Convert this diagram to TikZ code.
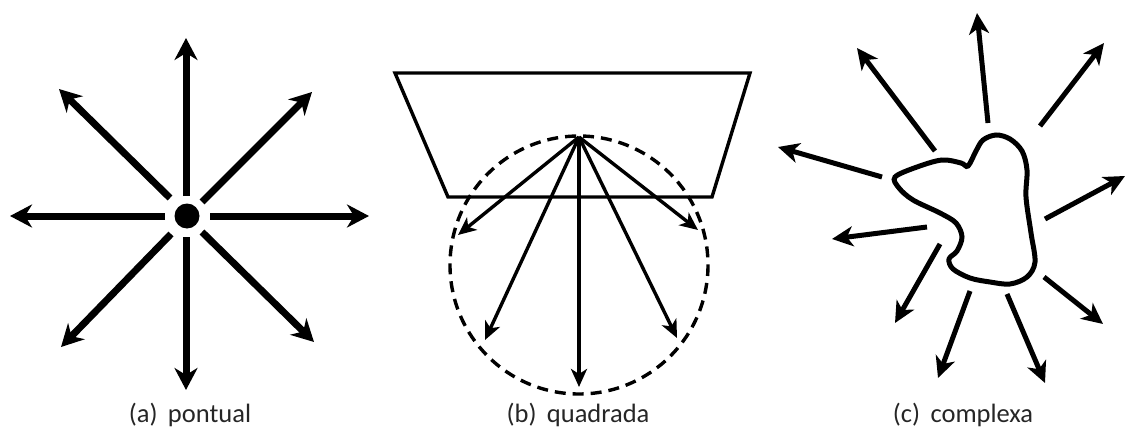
\documentclass[tikz,border=0pt]{standalone}
\usepackage{fontspec}
\setmainfont{Carlito}
\usetikzlibrary{arrows.meta}
\begin{document}
\begin{tikzpicture}[x=1pt,y=-1pt,
  biga/.style={line width=7pt,-{Stealth[length=22pt,width=23pt,inset=7pt]}},
  meda/.style={line width=5pt,-{Stealth[length=21pt,width=20pt,inset=6pt]}},
  thina/.style={line width=3.4pt,-{Stealth[length=18pt,width=16pt,inset=5pt]}},
  lab/.style={font=\fontsize{26.5}{30}\selectfont, anchor=base, text=black!85}]
\useasboundingbox (0,0) rectangle (1125,428);
% (a)
\node[circle,fill=black,minimum size=25pt,inner sep=0pt] (dot) at (187,216) {};
\foreach \n/\sx/\sy/\tx/\ty in {n/186/196/186/38, s/186/237/186/390, w/165/216/10/216, e/210/216/369/216,
  nw/170/198/59/89, ne/202/202/312/92, sw/171/234/61/347, se/202/232/314/342}{
  \coordinate (as\n) at (\sx,\sy);
  \coordinate (at\n) at (\tx,\ty);
  \draw[biga] (as\n) -- (at\n);
}
% (b)
\draw[line width=3.4pt, line join=miter] (395,73) -- (750,73) -- (712,197) -- (448,197) -- cycle;
\coordinate (src) at (579,137);
\draw[line width=3.4pt, dash pattern=on 11pt off 7pt] (579,265) circle [radius=129];
\foreach \n/\tx/\ty in {1/458/235, 2/485/340, 3/579/387, 4/677/338, 5/698/230}{
  \coordinate (bt\n) at (\tx,\ty);
  \draw[thina] (src) -- (bt\n);
}
% (c)
\draw[line width=5pt] plot[smooth cycle, tension=0.55] coordinates {
 (895,177) (917,167) (942,160) (961,163) (968,166) (976,151) (983,140) (996,135) (1010,139)
 (1022,151) (1027,170) (1026,197) (1031,233) (1035,262) (1027,277) (1010,284) (990,282)
 (970,278) (953,269) (949,259) (957,251) (962,237) (956,223) (940,213) (913,200) (899,188)};
\foreach \n/\sx/\sy/\tx/\ty in {1/988/123/977/13, 2/1040/126/1104/43, 3/935/151/857/48, 4/882/177/778/147,
  5/1045/219/1125/176, 6/927/227/832/239, 7/940/244/895/323, 8/970/291/938/378, 9/1007/294/1045/383,
  10/1044/277/1103/324}{
  \coordinate (cs\n) at (\sx,\sy);
  \coordinate (ct\n) at (\tx,\ty);
  \draw[meda] (cs\n) -- (ct\n);
}
% labels
\node[lab] (la) at (190,422) {(a)\, pontual};
\node[lab] (lb) at (578,422) {(b)\, quadrada};
\node[lab] (lc) at (963,422) {(c)\, complexa};
\end{tikzpicture}
\end{document}
